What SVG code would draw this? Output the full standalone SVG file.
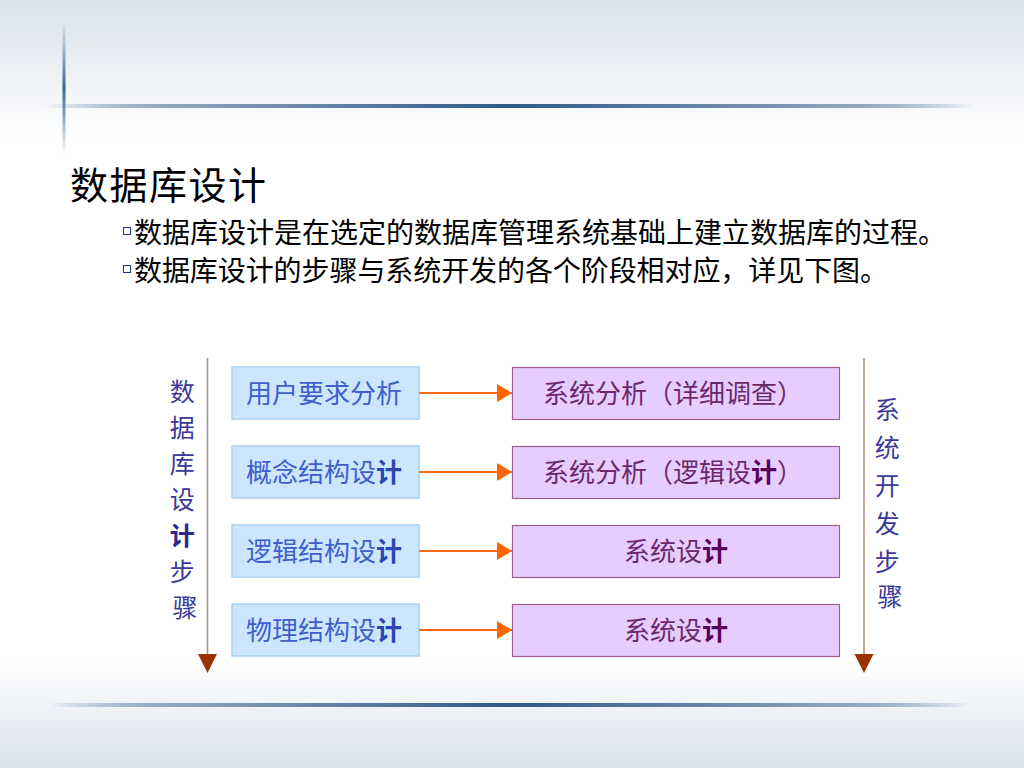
<svg xmlns="http://www.w3.org/2000/svg" width="1024" height="768" viewBox="0 0 1024 768">
<defs>
<linearGradient id="bgTop" x1="0" y1="0" x2="0" y2="1">
<stop offset="0" stop-color="#dbe2eb"/>
<stop offset="1" stop-color="#ffffff"/>
</linearGradient>
<linearGradient id="bgBot" x1="0" y1="0" x2="0" y2="1">
<stop offset="0" stop-color="#ffffff"/>
<stop offset="1" stop-color="#dbe2eb"/>
</linearGradient>
<linearGradient id="hline" x1="0" y1="0" x2="1" y2="0">
<stop offset="0" stop-color="#3c6491" stop-opacity="0"/>
<stop offset="0.15" stop-color="#8aa2bd"/>
<stop offset="0.5" stop-color="#2f5a88"/>
<stop offset="0.85" stop-color="#8aa2bd"/>
<stop offset="1" stop-color="#3c6491" stop-opacity="0"/>
</linearGradient>
<linearGradient id="vline" x1="0" y1="0" x2="0" y2="1">
<stop offset="0" stop-color="#3c6491" stop-opacity="0"/>
<stop offset="0.5" stop-color="#3c6491"/>
<stop offset="1" stop-color="#3c6491" stop-opacity="0"/>
</linearGradient>
<marker id="orangeHead" viewBox="0 0 15 18" refX="15" refY="9" markerWidth="15" markerHeight="18" markerUnits="userSpaceOnUse" orient="auto">
<path d="M0,0 L15,9 L0,18 Z" fill="#ff6600"/>
</marker>
<style>
.cjk{font-family:"Noto Sans CJK SC","Noto Sans CJK JP",sans-serif;}
.title{font-size:38px;fill:#000;}
.bullet{font-size:28px;fill:#000;}
.sq{fill:#fff;stroke:#1f3a7a;stroke-width:1;}
.lbox{fill:#cce6ff;stroke:#a6d0f5;stroke-width:1.5;}
.rbox{fill:#e6ccff;stroke:#a0608f;stroke-width:1.2;}
.ltxt{font-size:26px;fill:#3f5fcc;}
.ltxt .b{font-weight:bold;fill:#2a46b0;}
.rtxt{font-size:26px;fill:#6a2a6a;}
.rtxt .b{font-weight:bold;fill:#5a005a;}
.vtxt{font-size:25px;fill:#3a3a99;text-anchor:middle;}
.vtxt .b{font-weight:bold;fill:#2a2a88;}
.conn{stroke:#ff6a10;stroke-width:2;fill:none;}
.axis{stroke:#b58a78;stroke-width:1.5;fill:none;}
</style>
</defs>
<rect x="0" y="0" width="1024" height="768" fill="#ffffff"/>
<rect x="0" y="0" width="1024" height="140" fill="url(#bgTop)"/>
<rect x="0" y="660" width="1024" height="108" fill="url(#bgBot)"/>
<rect x="45" y="104" width="930" height="4" fill="url(#hline)"/>
<rect x="50" y="703" width="920" height="4" fill="url(#hline)"/>
<rect x="62.5" y="22" width="3" height="132" fill="url(#vline)"/>

<g id="heading">
<text class="cjk title" x="70" y="199" textLength="196" lengthAdjust="spacing">数据库设计</text>
<rect class="sq" x="123.5" y="227.5" width="7" height="7"/>
<text class="cjk bullet" x="134" y="243" textLength="812" lengthAdjust="spacing">数据库设计是在选定的数据库管理系统基础上建立数据库的过程。</text>
<rect class="sq" x="123.5" y="265.5" width="7" height="7"/>
<text class="cjk bullet" x="134" y="281" textLength="754" lengthAdjust="spacing">数据库设计的步骤与系统开发的各个阶段相对应，详见下图。</text>
</g>

<g id="axis-left">
<line class="axis" x1="207.5" y1="358" x2="207.5" y2="655"/>
<path d="M198,654 L217,654 L207.5,673 Z" fill="#993300"/>
<text class="cjk vtxt" x="185">
<tspan x="185" y="401">数</tspan>
<tspan x="185" y="437">据</tspan>
<tspan x="185" y="473">库</tspan>
<tspan x="185" y="509">设</tspan>
<tspan x="185" y="545" class="b">计</tspan>
<tspan x="185" y="581">步</tspan>
<tspan x="185" y="617">骤</tspan>
</text>
</g>

<g id="axis-right">
<line class="axis" x1="864" y1="358" x2="864" y2="655"/>
<path d="M854.5,654 L873.5,654 L864,673 Z" fill="#993300"/>
<text class="cjk vtxt" x="890">
<tspan x="890" y="419">系</tspan>
<tspan x="890" y="457">统</tspan>
<tspan x="890" y="495">开</tspan>
<tspan x="890" y="533">发</tspan>
<tspan x="890" y="571">步</tspan>
<tspan x="890" y="606">骤</tspan>
</text>
</g>

<g id="node-l1">
<rect class="lbox" x="232" y="367" width="187" height="52"/>
<text class="cjk ltxt" x="246" y="403">用户要求分析</text>
</g>
<g id="node-l2">
<rect class="lbox" x="232" y="446" width="187" height="52"/>
<text class="cjk ltxt" x="246" y="482">概念结构设<tspan class="b">计</tspan></text>
</g>
<g id="node-l3">
<rect class="lbox" x="232" y="525" width="187" height="52"/>
<text class="cjk ltxt" x="246" y="561">逻辑结构设<tspan class="b">计</tspan></text>
</g>
<g id="node-l4">
<rect class="lbox" x="232" y="604" width="187" height="52"/>
<text class="cjk ltxt" x="246" y="640">物理结构设<tspan class="b">计</tspan></text>
</g>

<g id="node-r1">
<rect class="rbox" x="512.5" y="367.5" width="327" height="52"/>
<text class="cjk rtxt" x="543" y="403">系统分析（详细调查）</text>
</g>
<g id="node-r2">
<rect class="rbox" x="512.5" y="446.5" width="327" height="52"/>
<text class="cjk rtxt" x="543" y="482">系统分析（逻辑设<tspan class="b">计</tspan>）</text>
</g>
<g id="node-r3">
<rect class="rbox" x="512.5" y="525.5" width="327" height="52"/>
<text class="cjk rtxt" x="676" y="561" text-anchor="middle">系统设<tspan class="b">计</tspan></text>
</g>
<g id="node-r4">
<rect class="rbox" x="512.5" y="604.5" width="327" height="52"/>
<text class="cjk rtxt" x="676" y="640" text-anchor="middle">系统设<tspan class="b">计</tspan></text>
</g>

<g id="connectors">
<line class="conn" x1="419" y1="393" x2="512" y2="393" marker-end="url(#orangeHead)"/>
<line class="conn" x1="419" y1="472" x2="512" y2="472" marker-end="url(#orangeHead)"/>
<line class="conn" x1="419" y1="551" x2="512" y2="551" marker-end="url(#orangeHead)"/>
<line class="conn" x1="419" y1="630" x2="512" y2="630" marker-end="url(#orangeHead)"/>
</g>
</svg>
